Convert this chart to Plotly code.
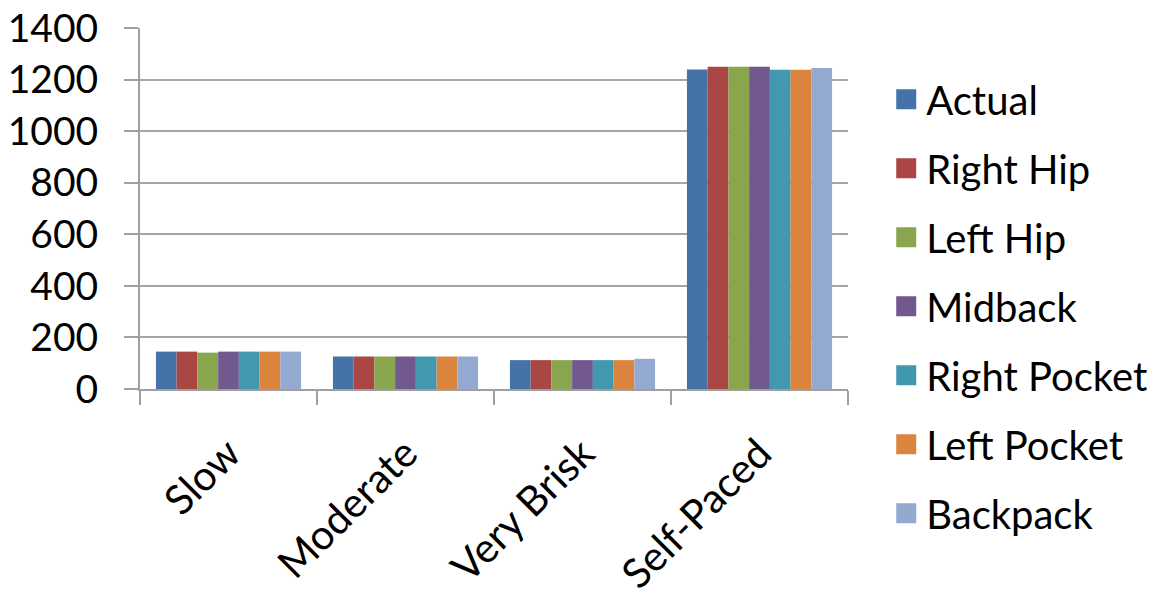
import plotly.graph_objects as go

categories = ["Slow", "Moderate", "Very Brisk", "Self-Paced"]
series_names = ["Actual", "Right Hip", "Left Hip", "Midback", "Right Pocket", "Left Pocket", "Backpack"]
actual = [145, 126, 112, 1239]
right_hip = [145, 126, 112, 1250]
left_hip = [141, 126, 112, 1250]
midback = [145, 126, 112, 1250]
right_pocket = [145, 126, 112, 1238]
left_pocket = [145, 126, 112, 1238]
backpack = [145, 126, 117, 1245]
colors = ["#4572A7", "#AA4643", "#89A54E", "#71588F", "#4198AF", "#DB843D", "#93A9CF"]

series = [actual, right_hip, left_hip, midback, right_pocket, left_pocket, backpack]
FONT = "Lato"

fig = go.Figure()
for i, (name, vals) in enumerate(zip(series_names, series)):
    fig.add_trace(go.Bar(
        x=categories, y=vals, name=name, legendgroup=name, showlegend=False,
        marker=dict(color=colors[i], line=dict(width=0)),
    ))
# legend entries (larger square swatches)
for i, name in enumerate(series_names):
    fig.add_trace(go.Scatter(
        x=[None], y=[None], mode="markers", name=name, legendgroup=name,
        marker=dict(symbol="square", size=16, color=colors[i],
                    line=dict(color=colors[i], width=4)),
    ))

fig.update_layout(
    width=1160, height=597,
    margin=dict(l=140, r=312, t=28, b=208, autoexpand=False),
    paper_bgcolor="white", plot_bgcolor="white",
    barmode="group", bargap=0.18, bargroupgap=0,
    font=dict(family=FONT, size=40, color="black"),
    legend=dict(
        x=1.054, xanchor="left", yref="container", y=0.888, yanchor="top",
        font=dict(family=FONT, size=40, color="black"),
        traceorder="grouped", tracegroupgap=14,
        itemwidth=30, maxheight=1.0,
    ),
    xaxis=dict(
        showline=True, linecolor="#9F9F9F", linewidth=2,
        ticks="outside", tickson="boundaries", ticklen=14, tickcolor="#9F9F9F", tickwidth=2,
        tickangle=-45, tickfont=dict(family=FONT, size=41, color="black"),
        showgrid=False, automargin=False, ticklabelstandoff=22,
        ticklabeloverflow="allow",
    ),
    yaxis=dict(
        range=[0, 1400], tickvals=[0, 200, 400, 600, 800, 1000, 1200, 1400],
        showline=True, linecolor="#9F9F9F", linewidth=2,
        ticks="outside", ticklen=14, tickcolor="#9F9F9F", tickwidth=2,
        showgrid=True, gridcolor="#A6A6A6", gridwidth=2,
        zeroline=False, automargin=False,
        tickfont=dict(family=FONT, size=39, color="black"),
        ticklabelstandoff=18, ticklabeloverflow="allow",
    ),
)

fig.write_html("out.html", config={"displayModeBar": False},
               post_script="document.body.style.margin='0';")
